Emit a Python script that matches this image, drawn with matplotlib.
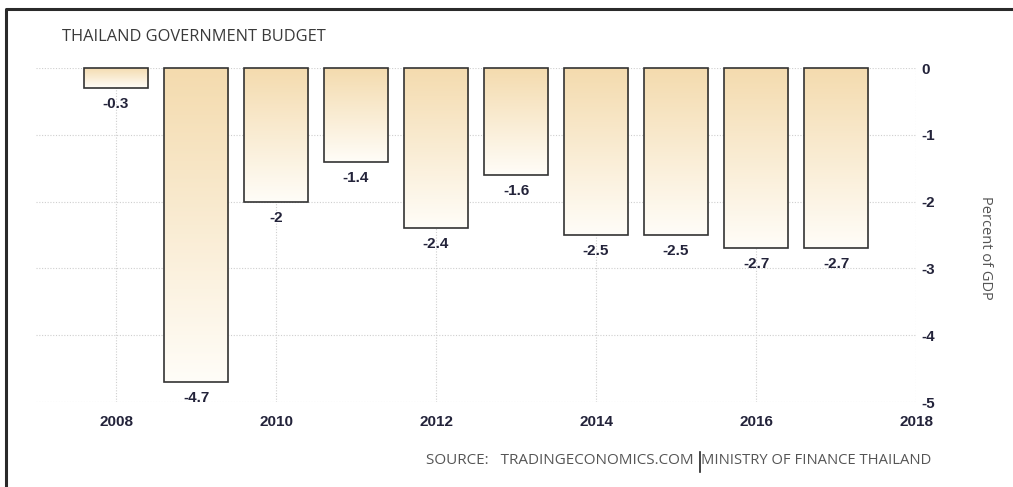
import numpy as np
import matplotlib.pyplot as plt
from matplotlib.colors import LinearSegmentedColormap
from matplotlib.lines import Line2D

plt.rcParams['axes.unicode_minus'] = False

# data
years = [2008, 2009, 2010, 2011, 2012, 2013, 2014, 2015, 2016, 2017]
budget = [-0.3, -4.7, -2.0, -1.4, -2.4, -1.6, -2.5, -2.5, -2.7, -2.7]
value_labels = ['-0.3', '-4.7', '-2', '-1.4', '-2.4', '-1.6', '-2.5', '-2.5', '-2.7', '-2.7']
xticks = [2008, 2010, 2012, 2014, 2016, 2018]
yticks = [0, -1, -2, -3, -4, -5]

W, H = 1013, 487
fig = plt.figure(figsize=(W / 100, H / 100), dpi=100)
ax = fig.add_axes([36 / W, 1 - 402 / H, (916 - 36) / W, (402 - 68) / H])

grid_col = '#cfcfcf'
for y in yticks:
    ax.axhline(y, color=grid_col, lw=0.8, ls=(0, (1, 1.5)), zorder=0)
for x in xticks:
    ax.axvline(x, color=grid_col, lw=0.8, ls=(0, (1, 1.5)), zorder=0)

# bars with vertical gradient
cmap = LinearSegmentedColormap.from_list('wheat', ['#fffdf8', '#f4dbae'])
grad = np.linspace(0, 1, 256).reshape(-1, 1)
bars = ax.bar(years, budget, width=0.81, color='none', edgecolor='#333333',
              linewidth=1.2, zorder=3, clip_on=False)
for b in bars:
    x0, w = b.get_x(), b.get_width()
    y0, h = b.get_y(), b.get_height()
    im = ax.imshow(grad, cmap=cmap, aspect='auto', origin='lower',
                   extent=[x0, x0 + w, y0 + h, y0], zorder=2)
    im.set_clip_path(b)

for x, v, lab in zip(years, budget, value_labels):
    ax.annotate(lab, (x, v), xytext=(0, -16), textcoords='offset pixels',
                ha='center', va='center', fontsize=11, fontweight='bold',
                family='Liberation Sans', color='#23233a', zorder=4)

ax.set_xlim(2007, 2018)
ax.set_ylim(-5, 0)
ax.set_xticks(xticks)
ax.set_yticks(yticks)
ax.set_yticklabels([str(t) for t in yticks])
ax.yaxis.tick_right()
ax.tick_params(axis='both', length=0, labelsize=11, labelcolor='#23233a')
ax.tick_params(axis='x', pad=9)
ax.tick_params(axis='y', pad=4)
for lab in ax.get_xticklabels() + ax.get_yticklabels():
    lab.set_fontweight('bold')
    lab.set_family('Liberation Sans')
for s in ax.spines.values():
    s.set_visible(False)
ax.set_facecolor('none')

# texts
fig.text(62 / W, 1 - 37 / H, 'THAILAND GOVERNMENT BUDGET', ha='left', va='center',
         fontsize=11.8, family='Open Sans', color='#3a3a3a')
fig.text(985 / W, 1 - 248 / H, 'Percent of GDP', ha='center', va='center',
         rotation=270, fontsize=10.5, family='Open Sans', color='#555555')
fig.text(694 / W, 1 - 461 / H, 'SOURCE:   TRADINGECONOMICS.COM', ha='right', va='center',
         fontsize=11, family='Open Sans', color='#555555')
fig.text(701 / W, 1 - 461 / H, 'MINISTRY OF FINANCE THAILAND', ha='left', va='center',
         fontsize=10.6, family='Open Sans', color='#555555')
fig.add_artist(Line2D([700 / W, 700 / W], [1 - 452 / H, 1 - 472 / H],
                      color='#222222', lw=1.2))

# outer frame (top and left only)
fig.add_artist(Line2D([6 / W, 6 / W, 1], [0, 1 - 9 / H, 1 - 9 / H],
                      color='#2a2a2a', lw=2.2))

fig.savefig('out.png', dpi=100)
